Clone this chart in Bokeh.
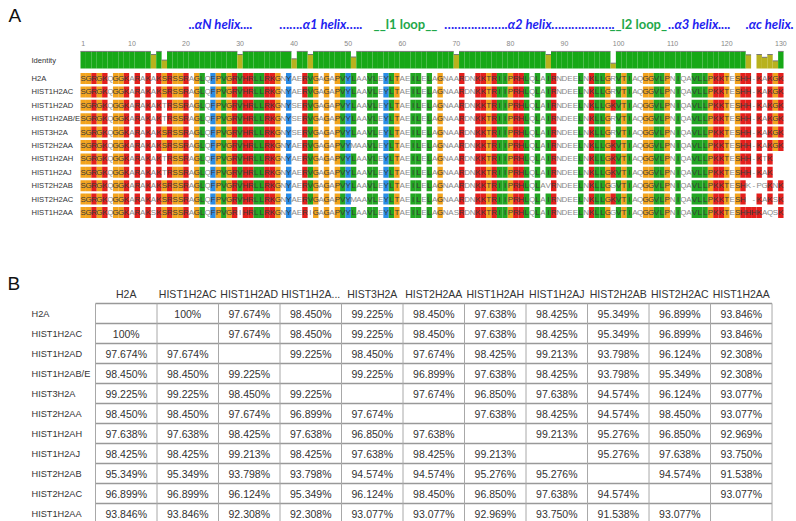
from collections import Counter
from bokeh.plotting import figure
from bokeh.models import Range1d
from bokeh.layouts import column
from bokeh.embed import file_html
from bokeh.resources import INLINE
from bokeh.core.properties import value

# ---------------- data ----------------
seq_names = ["H2A", "HIST1H2AC", "HIST1H2AD", "HIST1H2AB/E", "HIST3H2A", "HIST2H2AA",
             "HIST1H2AH", "HIST1H2AJ", "HIST2H2AB", "HIST2H2AC", "HIST1H2AA"]

sequences = [
    "SGRGKQGGKA" "RAKAKSRSSR" "AGLQFPVGRV" "HRLLRKGNYA" "ERVGAGAPVY" "LAAVLEYLTA" "EILELAGNAA" "RDNKKTRIIP" "RHLQLAIRND" "EELNKLLGRV" "TIAQGGVLPN" "IQAVLLPKKT" "ESHH-KAKGK",
    "SGRGKQGGKA" "RAKAKSRSSR" "AGLQFPVGRV" "HRLLRKGNYA" "ERVGAGAPVY" "LAAVLEYLTA" "EILELAGNAA" "RDNKKTRIIP" "RHLQLAIRND" "EELNKLLGRV" "TIAQGGVLPN" "IQAVLLPKKT" "ESHH-KAKGK",
    "SGRGKQGGKA" "RAKAKTRSSR" "AGLQFPVGRV" "HRLLRKGNYS" "ERVGAGAPVY" "LAAVLEYLTA" "EILELAGNAA" "RDNKKTRIIP" "RHLQLAIRND" "EELNKLLGKV" "TIAQGGVLPN" "IQAVLLPKKT" "ESHH-KAKGK",
    "SGRGKQGGKA" "RAKAKTRSSR" "AGLQFPVGRV" "HRLLRKGNYS" "ERVGAGAPVY" "LAAVLEYLTA" "EILELAGNAA" "RDNKKTRIIP" "RHLQLAIRND" "EELNKLLGRV" "TIAQGGVLPN" "IQAVLLPKKT" "ESHH-KAKGK",
    "SGRGKQGGKA" "RAKAKSRSSR" "AGLQFPVGRV" "HRLLRKGNYS" "ERVGAGAPVY" "LAAVLEYLTA" "EILELAGNAA" "RDNKKTRIIP" "RHLQLAIRND" "EELNKLLGRV" "TIAQGGVLPN" "IQAVLLPKKT" "ESHH-KAKGK",
    "SGRGKQGGKA" "RAKAKSRSSR" "AGLQFPVGRV" "HRLLRKGNYA" "ERVGAGAPVY" "MAAVLEYLTA" "EILELAGNAA" "RDNKKTRIIP" "RHLQLAIRND" "EELNKLLGKV" "TIAQGGVLPN" "IQAVLLPKKT" "ESHH-KAKGK",
    "SGRGKQGGKA" "RAKAKTRSSR" "AGLQFPVGRV" "HRLLRKGNYA" "ERVGAGAPVY" "LAAVLEYLTA" "EILELAGNAA" "RDNKKTRIIP" "RHLQLAIRND" "EELNKLLGKV" "TIAQGGVLPN" "IQAVLLPKKT" "ESHH-KTK  ",
    "SGRGKQGGKA" "RAKAKTRSSR" "AGLQFPVGRV" "HRLLRKGNYA" "ERVGAGAPVY" "LAAVLEYLTA" "EILELAGNAA" "RDNKKTRIIP" "RHLQLAIRND" "EELNKLLGKV" "TIAQGGVLPN" "IQAVLLPKKT" "ESHH-KAK  ",
    "SGRGKQGGKA" "RAKAKSRSSR" "AGLQFPVGRV" "HRLLRKGNYA" "ERVGAGAPVY" "LAAVLEYLTA" "EILELAGNAA" "RDNKKTRIIP" "RHLQLAVRND" "EELNKLLGGV" "TIAQGGVLPN" "IQAVLLPKKT" "ESHK-PGKNK",
    "SGRGKQGGKA" "RAKAKSRSSR" "AGLQFPVGRV" "HRLLRKGNYA" "ERVGAGAPVY" "MAAVLEYLTA" "EILELAGNAA" "RDNKKTRIIP" "RHLQLAIRND" "EELNKLLGKV" "TIAQGGVLPN" "IQAVLLPKKT" "ESH -KAKSK",
    "SGRGKQGGKA" "RAKSKSRSSR" "AGLQFPVGRI" "HRLLRKGNYA" "ERIGAGAPVY" "LAAVLEYLTA" "EILELAGNAS" "RDNKKTRIIP" "RHLQLAIRND" "EELNKLLGGV" "TIAQGGVLPN" "IQAVLLPKKT" "ESHHHKAQSK",
]

ruler_ticks = [1, 10, 20, 30, 40, 50, 60, 70, 80, 90, 100, 110, 120, 130]

annot_text = ["..αN helix....", "……." + "α1 helix" + "…..", "__l1 loop__",
              "…" * 6 + ".α2 helix" + "…" * 6 + ".", "__l2 loop_", "..α3 helix....", ".αc helix."]
annot_kind = ["helix", "helix", "loop", "helix", "loop", "helix", "helix"]

table_headers = ["H2A", "HIST1H2AC", "HIST1H2AD", "HIST1H2A...", "HIST3H2A", "HIST2H2AA",
                 "HIST1H2AH", "HIST1H2AJ", "HIST2H2AB", "HIST2H2AC", "HIST1H2AA"]
table_rows = ["H2A", "HIST1H2AC", "HIST1H2AD", "HIST1H2AB/E", "HIST3H2A", "HIST2H2AA",
              "HIST1H2AH", "HIST1H2AJ", "HIST2H2AB", "HIST2H2AC", "HIST1H2AA"]
identity_pct = [
    [None, 100, 97.674, 98.450, 99.225, 98.450, 97.638, 98.425, 95.349, 96.899, 93.846],
    [100, None, 97.674, 98.450, 99.225, 98.450, 97.638, 98.425, 95.349, 96.899, 93.846],
    [97.674, 97.674, None, 99.225, 98.450, 97.674, 98.425, 99.213, 93.798, 96.124, 92.308],
    [98.450, 98.450, 99.225, None, 99.225, 96.899, 97.638, 98.425, 93.798, 95.349, 92.308],
    [99.225, 99.225, 98.450, 99.225, None, 97.674, 96.850, 97.638, 94.574, 96.124, 93.077],
    [98.450, 98.450, 97.674, 96.899, 97.674, None, 97.638, 98.425, 94.574, 98.450, 93.077],
    [97.638, 97.638, 98.425, 97.638, 96.850, 97.638, None, 99.213, 95.276, 96.850, 92.969],
    [98.425, 98.425, 99.213, 98.425, 97.638, 98.425, 99.213, None, 95.276, 97.638, 93.750],
    [95.349, 95.349, 93.798, 93.798, 94.574, 94.574, 95.276, 95.276, None, 94.574, 91.538],
    [96.899, 96.899, 96.124, 95.349, 96.124, 98.450, 96.850, 97.638, 94.574, None, 93.077],
    [93.846, 93.846, 92.308, 92.308, 93.077, 93.077, 92.969, 93.750, 91.538, 93.077, None],
]

# ---------------- styles ----------------
RED, ORANGE, GREEN, BLUE = "#e41f1c", "#f2a31d", "#22a622", "#2a8de6"
res_colour = {"R": RED, "K": RED, "H": RED,
              "G": ORANGE, "P": ORANGE, "S": ORANGE, "T": ORANGE,
              "L": GREEN, "I": GREEN, "V": GREEN, "M": GREEN,
              "F": BLUE, "Y": BLUE, "W": BLUE}
SANS = value("Liberation Sans")
annot_start = [20.5, 37.3, 54.7, 67.8, 98.3, 109.2, 123.5]

ncol = max(len(s) for s in sequences)

# ---------------- panel A ----------------
pA = figure(width=796, height=270, x_range=Range1d(-14.293, 132.898), y_range=Range1d(14.328, -5.821),
            output_backend="svg", toolbar_location=None, min_border=0)
pA.axis.visible = False
pA.grid.visible = False
pA.outline_line_color = None

consensus = []
ident = []
for c in range(ncol):
    chars = [s[c] for s in sequences if c < len(s) and s[c] not in " -"]
    cnt = Counter(chars)
    consensus.append(cnt.most_common(1)[0][0] if cnt else "-")
    n = len(chars)
    if n < 2:
        ident.append(0.0)
    else:
        same = sum(v * (v - 1) / 2 for v in cnt.values())
        ident.append(same / (n * (n - 1) / 2))

# identity bar
BASE, HBAR = -0.75, 1.27
bx, btop, bcol = [], [], []
for c, f in enumerate(ident, start=1):
    if f <= 0:
        continue
    bx.append(c)
    btop.append(BASE - f * HBAR)
    bcol.append("#17a817" if f >= 0.999 else ("#b8b21e" if f >= 0.3 else "#d62020"))
pA.vbar(x=bx, width=1.0, bottom=BASE, top=btop, fill_color=bcol, line_color=None)
pA.segment(x0=[x - 0.5 for x in bx], x1=[x + 0.5 for x in bx], y0=btop, y1=btop,
           line_color="#777777", line_width=1)

# sequence cells
cx, cy, ccol, tx, ty, tt, tcol = [], [], [], [], [], [], []
for r, s in enumerate(sequences):
    for c, ch in enumerate(s):
        if ch == " ":
            continue
        col = res_colour.get(ch) if ch == consensus[c] else None
        if col:
            cx.append(c + 1); cy.append(r); ccol.append(col)
        tx.append(c + 1); ty.append(r); tt.append(ch)
        tcol.append("#3a3a3a" if col else "#8a8a8a")
pA.rect(x=cx, y=cy, width=1.0, height=0.82, fill_color=ccol, line_color=None)
pA.text(x=tx, y=ty, text=tt, text_color=tcol, text_font=SANS, text_font_size="8px",
        text_align="center", text_baseline="middle")

# names
pA.text(x=[-8.56] * len(seq_names), y=list(range(len(seq_names))), text=seq_names,
        text_font=SANS, text_font_size="7.6px", text_color="#333333",
        text_align="left", text_baseline="middle")
pA.text(x=[-8.56], y=[-1.34], text=["Identity"], text_font=SANS, text_font_size="7.6px",
        text_color="#333333", text_align="left", text_baseline="middle")

# ruler
pA.text(x=ruler_ticks, y=[-2.62] * len(ruler_ticks), text=[str(t) for t in ruler_ticks],
        text_font=SANS, text_font_size="7px", text_color="#888888",
        text_align="center", text_baseline="middle")

# structure annotations
for txt, x0, kind in zip(annot_text, annot_start, annot_kind):
    pA.text(x=[x0], y=[-4.1], text=[txt], text_font=value("Lato"), text_font_size="13px",
            text_font_style="bold italic" if kind == "helix" else "bold",
            text_color="#1f1ff0" if kind == "helix" else "#1fa84a",
            text_align="left", text_baseline="middle")

pA.text(x=[-12.8], y=[-4.73], text=["A"], text_font=SANS, text_font_size="19px",
        text_color="#111111", text_align="left", text_baseline="middle")

# ---------------- panel B ----------------
nr = len(table_rows)
pB = figure(width=796, height=251, x_range=Range1d(-2.0447, 10.898), y_range=Range1d(10.4, -2.15),
            output_backend="svg", toolbar_location=None, min_border=0)
pB.axis.visible = False
pB.grid.visible = False
pB.outline_line_color = None

hy = [i - 0.5 for i in range(nr + 1)]
pB.segment(x0=[-0.5] * len(hy), x1=[len(table_headers) - 0.5] * len(hy), y0=hy, y1=hy,
           line_color="#999999", line_width=1.6)
vx = [j - 0.5 for j in range(len(table_headers) + 1)]
pB.segment(x0=vx, x1=vx, y0=[-0.5] * len(vx), y1=[nr - 0.5] * len(vx),
           line_color="#a8a8a8", line_width=1)

pB.text(x=list(range(len(table_headers))), y=[-1] * len(table_headers), text=table_headers,
        text_font=SANS, text_font_size="10.5px", text_color="#333333",
        text_align="center", text_baseline="middle")
pB.text(x=[-1.54] * nr, y=list(range(nr)), text=table_rows,
        text_font=SANS, text_font_size="9.2px", text_color="#333333",
        text_align="left", text_baseline="middle")

vx_, vy_, vt_ = [], [], []
for i, row in enumerate(identity_pct):
    for j, v in enumerate(row):
        if v is None:
            continue
        vx_.append(j); vy_.append(i)
        vt_.append("100%" if v == 100 else f"{v:.3f}%")
pB.text(x=vx_, y=vy_, text=vt_, text_font=SANS, text_font_size="10.5px", text_color="#333333",
        text_align="center", text_baseline="middle")

pB.text(x=[-1.93], y=[-1.5], text=["B"], text_font=SANS, text_font_size="19px",
        text_color="#111111", text_align="left", text_baseline="middle")

layout = column(pA, pB, spacing=0)
open("out.html", "w").write(file_html(layout, INLINE))
